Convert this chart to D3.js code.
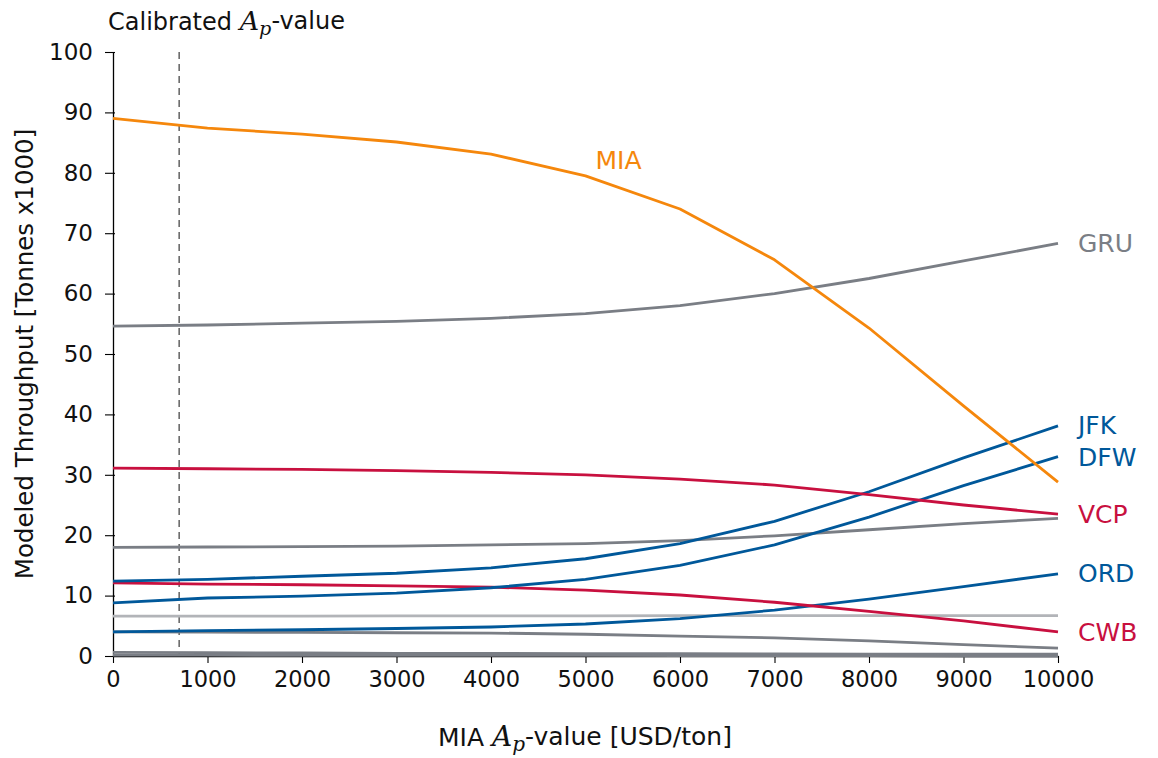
<!DOCTYPE html>
<html>
<head>
<meta charset="utf-8">
<script src="https://cdn.jsdelivr.net/npm/d3@7"></script>
<style>
  html, body { margin: 0; padding: 0; background: #fff; }
  svg text { font-family: "DejaVu Sans", "Noto Sans", sans-serif; }
  svg text .math { font-family: "DejaVu Serif", "Liberation Serif", serif; font-style: italic; }
</style>
</head>
<body>
<svg id="chart" width="1158" height="758"></svg>
<script>
// MIA A_p-value sweep (USD/ton)
const apValues = [0, 1000, 2000, 3000, 4000, 5000, 6000, 7000, 8000, 9000, 10000];

// Modeled throughput per airport, tonnes x1000
const mia = [89.0, 87.4, 86.4, 85.1, 83.1, 79.5, 74.0, 65.6, 54.3, 41.4, 28.8];
const gru = [54.6, 54.8, 55.1, 55.4, 55.9, 56.7, 58.0, 60.0, 62.5, 65.4, 68.3];
const jfk = [12.4, 12.7, 13.2, 13.7, 14.6, 16.1, 18.6, 22.3, 27.2, 32.8, 38.1];
const dfw = [8.8, 9.6, 9.9, 10.4, 11.3, 12.7, 15.0, 18.4, 23.0, 28.2, 33.0];
const vcp = [31.1, 31.0, 30.9, 30.7, 30.4, 30.0, 29.3, 28.3, 26.7, 25.0, 23.5];
const ord = [4.0, 4.2, 4.35, 4.55, 4.8, 5.3, 6.2, 7.6, 9.4, 11.5, 13.6];
const cwb = [12.1, 11.9, 11.8, 11.6, 11.4, 10.9, 10.1, 8.9, 7.4, 5.8, 4.0];

// Other (unlabelled) airports
const otherA = [18.0, 18.05, 18.1, 18.2, 18.4, 18.6, 19.1, 19.9, 20.9, 21.9, 22.8];
const otherB = [6.6, 6.6, 6.6, 6.65, 6.65, 6.65, 6.7, 6.7, 6.7, 6.7, 6.7];
const otherC = [4.0, 3.95, 3.9, 3.85, 3.8, 3.6, 3.3, 3.0, 2.5, 1.9, 1.3];
const otherD = [0.6, 0.55, 0.5, 0.45, 0.45, 0.4, 0.4, 0.35, 0.3, 0.3, 0.3];
const otherE = [0.15, 0.15, 0.1, 0.1, 0.1, 0.1, 0.05, 0.05, 0.05, 0.0, 0.0];

const calibratedAp = 700;
const xTicks = [0, 1000, 2000, 3000, 4000, 5000, 6000, 7000, 8000, 9000, 10000];
const yTicks = [0, 10, 20, 30, 40, 50, 60, 70, 80, 90, 100];

const colors = {
  orange: "#f5870c",
  blue: "#00589a",
  red: "#c8103f",
  gray: "#7a7e85",
  light: "#b2b4b8"
};

const background = [
  { values: otherA, color: colors.gray },
  { values: otherB, color: colors.light },
  { values: otherC, color: colors.gray },
  { values: otherD, color: colors.gray },
  { values: otherE, color: colors.gray },
  { values: gru, color: colors.gray, label: "GRU", labelY: 68.3 }
];
const highlighted = [
  { values: ord, color: colors.blue, label: "ORD", labelY: 13.7 },
  { values: cwb, color: colors.red, label: "CWB", labelY: 4.0 },
  { values: dfw, color: colors.blue, label: "DFW", labelY: 33.0 },
  { values: jfk, color: colors.blue, label: "JFK", labelY: 38.2 },
  { values: vcp, color: colors.red, label: "VCP", labelY: 23.5 },
  { values: mia, color: colors.orange }
];

const svg = d3.select("#chart");
const margin = { left: 113, right: 100, top: 52, bottom: 102 };
const W = 1158, H = 758;

const x = d3.scaleLinear().domain([0, 10000]).range([margin.left, W - margin.right]);
const y = d3.scaleLinear().domain([0, 100]).range([H - margin.bottom, margin.top]);

// Axes
const yAxis = svg.append("g")
  .attr("transform", `translate(${margin.left},0)`)
  .call(d3.axisLeft(y).tickValues(yTicks).tickSize(8).tickSizeOuter(0).tickPadding(12));
yAxis.select(".domain").attr("stroke", "#000").attr("stroke-width", 1.3);
yAxis.selectAll(".tick line").attr("stroke", "#000").attr("stroke-width", 1.1).attr("x2", -8).attr("x1", 2);
yAxis.selectAll(".tick text").attr("font-size", 23).attr("fill", "#111")
  .style("font-family", "'DejaVu Sans', sans-serif");

const xAxis = svg.append("g")
  .attr("transform", `translate(0,${y(0)})`)
  .call(d3.axisBottom(x).tickValues(xTicks).tickFormat(d3.format("d")).tickSize(7).tickSizeOuter(0).tickPadding(8));
xAxis.select(".domain").attr("stroke", "#000").attr("stroke-width", 1.3);
xAxis.selectAll(".tick line").attr("stroke", "#000").attr("stroke-width", 1.1);
xAxis.selectAll(".tick text").attr("font-size", 22.5).attr("fill", "#111")
  .style("font-family", "'DejaVu Sans', sans-serif");

// Calibrated value marker
svg.append("line")
  .attr("x1", x(calibratedAp)).attr("x2", x(calibratedAp))
  .attr("y1", y(100)).attr("y2", y(0))
  .attr("stroke", "#555").attr("stroke-width", 1.4)
  .attr("stroke-dasharray", "7,5");

const line = d3.line()
  .x((d, i) => x(apValues[i]))
  .y(d => y(d));

const plot = svg.append("g");
[...background, ...highlighted].forEach(s => {
  plot.append("path")
    .datum(s.values)
    .attr("fill", "none")
    .attr("stroke", s.color)
    .attr("stroke-width", 2.8)
    .attr("stroke-linejoin", "round")
    .attr("d", line);
  if (s.label) {
    svg.append("text")
      .attr("x", x(10000) + 20)
      .attr("y", y(s.labelY))
      .attr("dy", "0.36em")
      .attr("font-size", 25)
      .attr("fill", s.color)
      .text(s.label);
  }
});

// MIA label placed above its curve
svg.append("text")
  .attr("x", x(5000) + 10)
  .attr("y", y(82.2))
  .attr("dy", "0.36em")
  .attr("font-size", 25)
  .attr("fill", colors.orange)
  .text("MIA");

// Titles with math-style A_p
function mathTitle(sel, before, after) {
  sel.append("tspan").text(before);
  sel.append("tspan").attr("class", "math").attr("font-size", "1.12em").text("A");
  sel.append("tspan").attr("class", "math").attr("font-size", "0.8em").attr("dy", "0.25em").text("p");
  sel.append("tspan").attr("dy", "-0.25em").text(after);
}

const topTitle = svg.append("text")
  .attr("x", 108).attr("y", 30)
  .attr("font-size", 24).attr("fill", "#111");
mathTitle(topTitle, "Calibrated ", "-value");

const xTitle = svg.append("text")
  .attr("x", 585).attr("y", 746)
  .attr("text-anchor", "middle")
  .attr("font-size", 25).attr("fill", "#111");
mathTitle(xTitle, "MIA ", "-value [USD/ton]");

svg.append("text")
  .attr("transform", `translate(33,${(y(0) + y(100)) / 2}) rotate(-90)`)
  .attr("text-anchor", "middle")
  .attr("font-size", 24.5).attr("fill", "#111")
  .text("Modeled Throughput [Tonnes x1000]");
</script>
</body>
</html>
